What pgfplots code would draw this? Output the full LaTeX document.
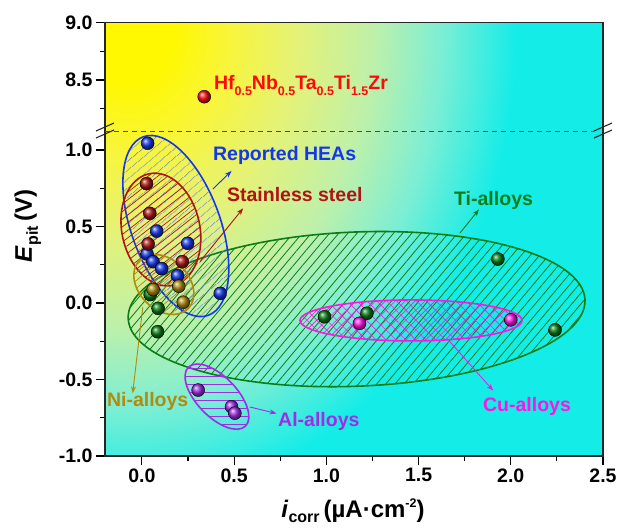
\documentclass[border=0pt]{standalone}
\usepackage{fontspec}
\setmainfont{Liberation Sans}
\usepackage{pgfplots}
\pgfplotsset{compat=1.18}
\usetikzlibrary{patterns.meta,arrows.meta}

\definecolor{bg0}{RGB}{255,248,0}
\definecolor{bg1}{RGB}{248,245,60}
\definecolor{bg2}{RGB}{228,242,120}
\definecolor{bg3}{RGB}{190,240,170}
\definecolor{bg4}{RGB}{125,238,212}
\definecolor{bg5}{RGB}{20,236,232}
\pgfdeclareradialshading{bgshade}{\pgfpoint{0bp}{0bp}}{color(0bp)=(bg0); color(2.5bp)=(bg0); color(6bp)=(bg1); color(10bp)=(bg2); color(14.5bp)=(bg3); color(18.5bp)=(bg4); color(23bp)=(bg5); color(50bp)=(bg5)}

\definecolor{cblue}{RGB}{20,55,235}
\definecolor{cdred}{RGB}{175,20,20}
\definecolor{colive}{RGB}{175,140,15}
\definecolor{cgreen}{RGB}{10,125,20}
\definecolor{cmag}{RGB}{255,20,230}
\definecolor{cpurp}{RGB}{160,45,230}
\definecolor{cred}{RGB}{255,10,10}

\newcommand\ticksfont{\fontsize{19.5}{20}\selectfont\bfseries}
\newcommand\annfont{\fontsize{19.5}{20}\selectfont\bfseries}
\newcommand\sub[1]{\raisebox{-6pt}{\fontsize{12.5}{13}\selectfont #1}}

\pgfplotsset{myax/.style={scale only axis, width=498pt, xmin=-0.2, xmax=2.5,
  axis line style={draw=none}, tick align=outside, tick pos=left,
  major tick length=9pt, minor tick length=5pt,
  tick style={black, line width=1.1pt},
  tick label style={font=\ticksfont}, clip=false}}

\begin{document}
\begin{tikzpicture}
\path[use as bounding box] (-105pt,-72pt) rectangle (515pt,456pt);
\begin{scope}
\clip (0,0) rectangle (498pt,433.3pt);
\fill[bg5] (0,0) rectangle (498pt,433.3pt);
\shade[shading=bgshade] (25pt,426pt) ellipse [x radius=420pt, y radius=510pt];
\end{scope}

% lower axis
\begin{axis}[myax, at={(0,0)}, anchor=south west, height=325pt,
  ymin=-1, ymax=1.124,
  xtick={0,0.5,1,1.5,2,2.5}, xticklabels={0.0,0.5,1.0,1.5,2.0,2.5},
  minor xtick={0.25,0.75,1.25,1.75,2.25},
  ytick={-1,-0.5,0,0.5,1}, yticklabels={-1.0,-0.5,0.0,0.5,1.0},
  minor ytick={-0.75,-0.25,0.25,0.75}]

% regions
\draw[cgreen, line width=1.6pt, pattern={Lines[angle=50,distance=7pt,line width=0.8pt]}, pattern color=cgreen]
  [rotate around={2.35:(axis cs:1.164,-0.040)}] (axis cs:1.164,-0.040) ellipse [x radius=228.6pt, y radius=77.1pt];
\draw[cblue, line width=1.6pt, pattern={Lines[angle=40,distance=6.5pt,line width=0.6pt]}, pattern color=cblue!75]
  [rotate around={-70:(axis cs:0.184,0.503)}] (axis cs:0.184,0.503) ellipse [x radius=95pt, y radius=44.5pt];
\draw[cdred, line width=1.6pt, pattern={Lines[angle=38,distance=6pt,line width=0.7pt]}, pattern color=cdred]
  [rotate around={-78:(axis cs:0.103,0.480)}] (axis cs:0.103,0.480) ellipse [x radius=57pt, y radius=39pt];
\draw[colive, line width=1.6pt, pattern={Lines[angle=40,distance=6pt,line width=0.7pt]}, pattern color=colive]
  [rotate around={-45:(axis cs:0.119,0.121)}] (axis cs:0.119,0.121) ellipse [x radius=34.3pt, y radius=25pt];
\draw[cmag, line width=1.6pt, pattern={Hatch[angle=45,distance=7pt,line width=0.6pt]}, pattern color=cmag]
  (axis cs:1.459,-0.114) ellipse [x radius=111pt, y radius=20.5pt];
\draw[cpurp, line width=1.6pt, pattern={Lines[angle=0,distance=8pt,line width=0.7pt]}, pattern color=cpurp]
  [rotate around={-46:(axis cs:0.407,-0.612)}] (axis cs:0.407,-0.612) ellipse [x radius=41pt, y radius=20pt];

% arrows
\draw[cblue, line width=0.9pt, -{Stealth[length=7pt,width=5pt]}] (axis cs:0.385,0.745) -- (axis cs:0.486,0.863);
\draw[cdred, line width=0.9pt, -{Stealth[length=7pt,width=5pt]}] (axis cs:0.315,0.270) -- (axis cs:0.549,0.619);
\draw[cgreen, line width=0.9pt, -{Stealth[length=7pt,width=5pt]}] (axis cs:1.724,0.456) -- (axis cs:1.828,0.612);
\draw[cmag, line width=0.9pt, -{Stealth[length=7pt,width=5pt]}] (axis cs:1.670,-0.253) -- (axis cs:1.905,-0.573);
\draw[cpurp, line width=0.9pt, -{Stealth[length=7pt,width=5pt]}] (axis cs:0.586,-0.680) -- (axis cs:0.730,-0.722);
\draw[colive, line width=0.9pt, -{Stealth[length=7pt,width=5pt]}] (axis cs:0.005,-0.026) -- (axis cs:-0.050,-0.590);

% points
\addplot[only marks, mark=ball, mark size=6.5pt, ball color=cgreen] coordinates {
(0.045,0.055) (0.088,-0.035) (0.085,-0.188) (0.99,-0.09) (1.22,-0.067) (1.93,0.287) (2.24,-0.176)};
\addplot[only marks, mark=ball, mark size=6.5pt, ball color=cblue] coordinates {
(0.031,1.044) (0.08,0.47) (0.248,0.39) (0.028,0.32) (0.06,0.27) (0.107,0.225) (0.193,0.178) (0.425,0.063)};
\addplot[only marks, mark=ball, mark size=6.5pt, ball color=cdred] coordinates {
(0.025,0.78) (0.043,0.586) (0.034,0.386) (0.219,0.27)};
\addplot[only marks, mark=ball, mark size=6.5pt, ball color=colive] coordinates {
(0.061,0.088) (0.2,0.11) (0.224,0.005)};
\addplot[only marks, mark=ball, mark size=6.5pt, ball color=cmag] coordinates {
(1.18,-0.133) (2.0,-0.11)};
\addplot[only marks, mark=ball, mark size=6.5pt, ball color=cpurp] coordinates {
(0.305,-0.569) (0.486,-0.678) (0.504,-0.72)};

% labels
\node[anchor=west, inner sep=0pt, text=cblue, font=\annfont] at (axis cs:0.385,0.961) {Reported HEAs};
\node[anchor=west, inner sep=0pt, text=cdred, font=\annfont] at (axis cs:0.461,0.706) {Stainless steel};
\node[anchor=west, inner sep=0pt, text=cgreen, font=\annfont] at (axis cs:1.692,0.673) {Ti-alloys};
\node[anchor=west, inner sep=0pt, text=cmag, font=\annfont] at (axis cs:1.849,-0.678) {Cu-alloys};
\node[anchor=west, inner sep=0pt, text=cpurp, font=\annfont] at (axis cs:0.738,-0.776) {Al-alloys};
\node[anchor=west, inner sep=0pt, text=colive, font=\annfont] at (axis cs:-0.19,-0.645) {Ni-alloys};
\end{axis}

% upper axis
\begin{axis}[myax, at={(0,325pt)}, anchor=south west, height=108.3pt,
  ymin=8.055, ymax=9.0, xtick=\empty,
  ytick={8.5,9}, yticklabels={8.5,9.0}, minor ytick={8.25,8.75}]
\addplot[only marks, mark=ball, mark size=6.5pt, ball color=cred] coordinates {(0.338,8.354)};
\node[anchor=west, inner sep=0pt, text=cred, font=\annfont] at (axis cs:0.39,8.456)
  {Hf\sub{0.5}Nb\sub{0.5}Ta\sub{0.5}Ti\sub{1.5}Zr};
\end{axis}

% frame, break
\draw[line width=1.2pt, black!85] (0,0) rectangle (498pt,433.3pt);
\draw[dash pattern=on 5pt off 4pt, line width=0.9pt, black!70] (0,325pt) -- (489pt,325pt);
\draw[line width=1.1pt, black!85] (-9pt,325pt) -- (9pt,333pt) (-9pt,318pt) -- (9pt,326pt);
\draw[line width=1.1pt, black!85] (489pt,325pt) -- (507pt,333pt) (489pt,318pt) -- (507pt,326pt);

% axis labels
\node[rotate=90, anchor=base, font=\fontsize{24}{26}\selectfont\bfseries] at (-73pt,230pt)
  {\textit{E}\raisebox{-6pt}{\fontsize{16}{16}\selectfont pit}\,(V)};
\node[anchor=base, font=\fontsize{24}{26}\selectfont\bfseries] at (248pt,-61pt)
  {\textit{i}\raisebox{-5pt}{\fontsize{16}{16}\selectfont corr}\,(µA·cm\raisebox{10pt}{\fontsize{12.5}{13}\selectfont -2})};
\end{tikzpicture}
\end{document}
